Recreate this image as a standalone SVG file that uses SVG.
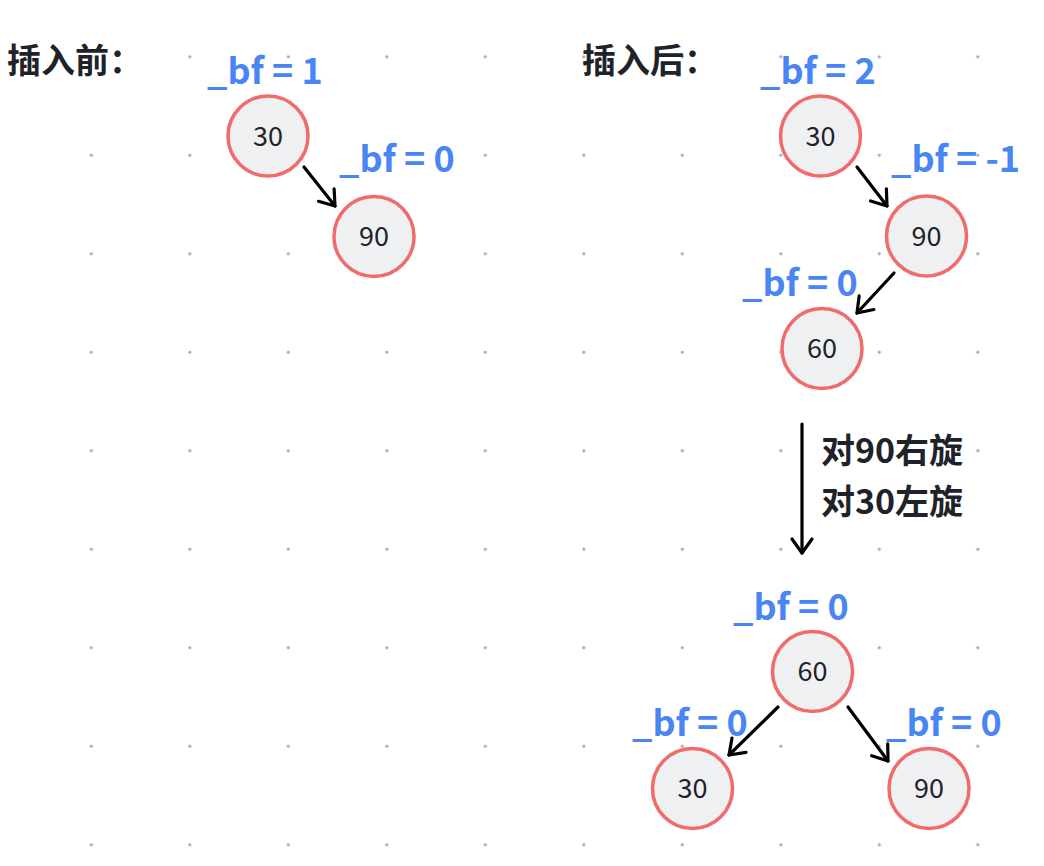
<svg xmlns="http://www.w3.org/2000/svg" width="1044" height="866" viewBox="0 0 1044 866">
<defs>
<style>
.dot{fill:#a0a4ac}
.node circle{fill:#eef0f2;stroke:#f26b6b;stroke-width:3.5}
.node text{font-family:"Noto Sans CJK SC","Noto Sans",sans-serif;font-size:27px;fill:#1f2329;text-anchor:middle}
.bf{font-family:"Noto Sans CJK SC","Noto Sans",sans-serif;font-weight:bold;font-size:36px;fill:#4a85f6}
.title{font-family:"Noto Sans CJK SC",sans-serif;font-weight:bold;font-size:34px;fill:#1f2329}
.edge{stroke:#000;stroke-width:3.2;fill:none;stroke-linecap:round;marker-end:url(#arr)}
</style>
<marker id="arr" markerUnits="userSpaceOnUse" viewBox="-20 -15 25 30" refX="0" refY="0" markerWidth="25" markerHeight="30" orient="auto" overflow="visible">
<path d="M-14,-10 L0,0 L-14,10" fill="none" stroke="#000" stroke-width="3.2" stroke-linecap="round" stroke-linejoin="round"/>
</marker>
<pattern id="grid" x="91.3" y="56.7" width="98.5" height="98.5" patternUnits="userSpaceOnUse">
<circle cx="0" cy="0" r="1.6" class="dot"/>
<circle cx="98.5" cy="0" r="1.6" class="dot"/>
<circle cx="0" cy="98.5" r="1.6" class="dot"/>
<circle cx="98.5" cy="98.5" r="1.6" class="dot"/>
</pattern>
</defs>
<rect width="1044" height="866" fill="#fff"/>
<rect x="88" y="53" width="900" height="800" fill="url(#grid)"/>
<text class="title" x="7" y="73">插入前：</text>
<text class="title" x="582" y="73">插入后：</text>
<g id="connectors">
<line class="edge" x1="304" y1="167" x2="335" y2="206"/>
<line class="edge" x1="857" y1="167" x2="887" y2="206"/>
<line class="edge" x1="894" y1="273" x2="857" y2="313"/>
<line class="edge" x1="802" y1="424" x2="802" y2="553"/>
<line class="edge" x1="778" y1="707" x2="729" y2="755"/>
<line class="edge" x1="848" y1="707" x2="888" y2="761"/>
</g>
<g id="b30" class="node"><circle cx="268" cy="136" r="40"/><text x="268" y="145.5">30</text></g>
<g id="b90" class="node"><circle cx="374" cy="236.5" r="40"/><text x="374" y="246">90</text></g>
<g id="a30" class="node"><circle cx="820.5" cy="136" r="40"/><text x="820.5" y="145.5">30</text></g>
<g id="a90" class="node"><circle cx="926.5" cy="236" r="40"/><text x="926.5" y="245.5">90</text></g>
<g id="a60" class="node"><circle cx="822" cy="348.5" r="40"/><text x="822" y="358">60</text></g>
<g id="r60" class="node"><circle cx="812.5" cy="671.5" r="40"/><text x="812.5" y="681">60</text></g>
<g id="r30" class="node"><circle cx="692.5" cy="788.5" r="40"/><text x="692.5" y="798">30</text></g>
<g id="r90" class="node"><circle cx="929" cy="788.5" r="40"/><text x="929" y="798">90</text></g>
<text class="bf" x="207" y="84">_bf = 1</text>
<text class="bf" x="339" y="172">_bf = 0</text>
<text class="bf" x="760" y="84">_bf = 2</text>
<text class="bf" x="891" y="172">_bf = -1</text>
<text class="bf" x="742" y="296">_bf = 0</text>
<text class="bf" x="733" y="620">_bf = 0</text>
<text class="bf" x="632" y="736">_bf = 0</text>
<text class="bf" x="886" y="736">_bf = 0</text>
<text class="title" x="821" y="463">对90右旋</text>
<text class="title" x="821" y="514">对30左旋</text>
</svg>
